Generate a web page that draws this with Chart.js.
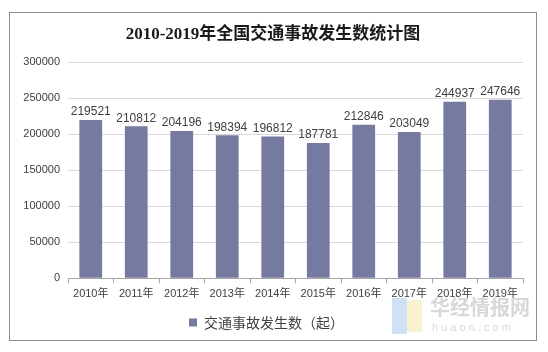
<!DOCTYPE html>
<html>
<head>
<meta charset="utf-8">
<script src="https://cdn.jsdelivr.net/npm/chart.js@4/dist/chart.umd.min.js"></script>
<style>
  html, body { margin: 0; padding: 0; background: #fff; }
  #wrap { position: relative; width: 548px; height: 352px; }
</style>
</head>
<body>
<div id="wrap"><canvas id="accidentChart" width="548" height="352"></canvas></div>
<script>
const years = ['2010年', '2011年', '2012年', '2013年', '2014年', '2015年', '2016年', '2017年', '2018年', '2019年'];
const accidents = [219521, 210812, 204196, 198394, 196812, 187781, 212846, 203049, 244937, 247646];
const seriesLabel = '交通事故发生数（起）';
const chartTitle = '2010-2019年全国交通事故发生数统计图';

const barColor = '#7679a0';
const textColor = '#404040';

// outer frame, centred title and the faint watermark in the corner
const framePlugin = {
  id: 'frame',
  beforeDraw(chart) {
    const ctx = chart.ctx;
    ctx.save();
    ctx.fillStyle = '#fff';
    ctx.fillRect(0, 0, chart.width, chart.height);
    ctx.strokeStyle = '#8c8c8c';
    ctx.lineWidth = 1;
    ctx.strokeRect(9.5, 12.5, 527, 328);
    ctx.restore();
  },
  afterDraw(chart) {
    const ctx = chart.ctx;
    ctx.save();
    ctx.fillStyle = '#1a1a1a';
    ctx.font = 'bold 17px "Liberation Serif", "Noto Sans CJK SC", serif';
    ctx.textAlign = 'center';
    ctx.textBaseline = 'middle';
    ctx.fillText(chartTitle, 273, 35);

    ctx.textAlign = 'left';
    ctx.globalAlpha = 0.55;
    ctx.fillStyle = '#a9c8f0';
    ctx.fillRect(392, 298, 15, 36);
    ctx.fillStyle = '#f3e7a8';
    ctx.fillRect(407, 300, 15, 32);
    ctx.globalAlpha = 1;
    ctx.fillStyle = 'rgba(190,190,190,0.6)';
    ctx.font = 'bold 20px "Noto Sans CJK SC"';
    ctx.fillText('华经情报网', 430, 307);
    ctx.font = '11px "Liberation Sans"';
    ctx.fillStyle = 'rgba(200,200,200,0.7)';
    ctx.fillText('h u a o n . c o m', 432, 328);
    ctx.restore();
  },
};

// value labels above each bar
const valueLabels = {
  id: 'valueLabels',
  afterDatasetsDraw(chart) {
    const ctx = chart.ctx;
    const meta = chart.getDatasetMeta(0);
    ctx.save();
    ctx.font = '12px "Liberation Sans", Arial, sans-serif';
    ctx.fillStyle = textColor;
    ctx.textAlign = 'center';
    ctx.textBaseline = 'middle';
    meta.data.forEach((bar, i) => {
      ctx.fillText(String(accidents[i]), bar.x, bar.y - 8);
    });
    ctx.restore();
  },
};

new Chart(document.getElementById('accidentChart'), {
  type: 'bar',
  data: {
    labels: years,
    datasets: [{
      label: seriesLabel,
      data: accidents,
      backgroundColor: barColor,
      borderWidth: 0,
      categoryPercentage: 1,
      barPercentage: 0.5,
    }],
  },
  options: {
    responsive: false,
    animation: false,
    devicePixelRatio: 1,
    layout: { padding: { left: 10, right: 25, top: 62, bottom: 12.5 } },
    scales: {
      x: {
        grid: { drawOnChartArea: false, drawTicks: true, tickLength: 5, color: '#a6a6a6', offset: true },
        border: { color: '#a6a6a6' },
        ticks: {
          color: textColor,
          font: { family: '"Liberation Sans", "Noto Sans CJK SC", sans-serif', size: 11 },
          padding: 4,
          maxRotation: 0,
          autoSkip: false,
        },
      },
      y: {
        min: 0,
        max: 300000,
        afterFit: scale => { scale.width = 58; },
        grid: { color: '#d9d9d9', drawTicks: false },
        border: { display: false },
        ticks: {
          stepSize: 50000,
          color: textColor,
          padding: 8,
          font: { family: '"Liberation Sans", Arial, sans-serif', size: 11 },
          callback: value => String(value),
        },
      },
    },
    plugins: {
      title: { display: false },
      legend: {
        position: 'bottom',
        labels: {
          color: textColor,
          boxWidth: 8,
          boxHeight: 8,
          padding: 11,
          font: { family: '"Noto Sans CJK SC", sans-serif', size: 14 },
        },
      },
      tooltip: { enabled: false },
    },
  },
  plugins: [framePlugin, valueLabels],
});
</script>
</body>
</html>
